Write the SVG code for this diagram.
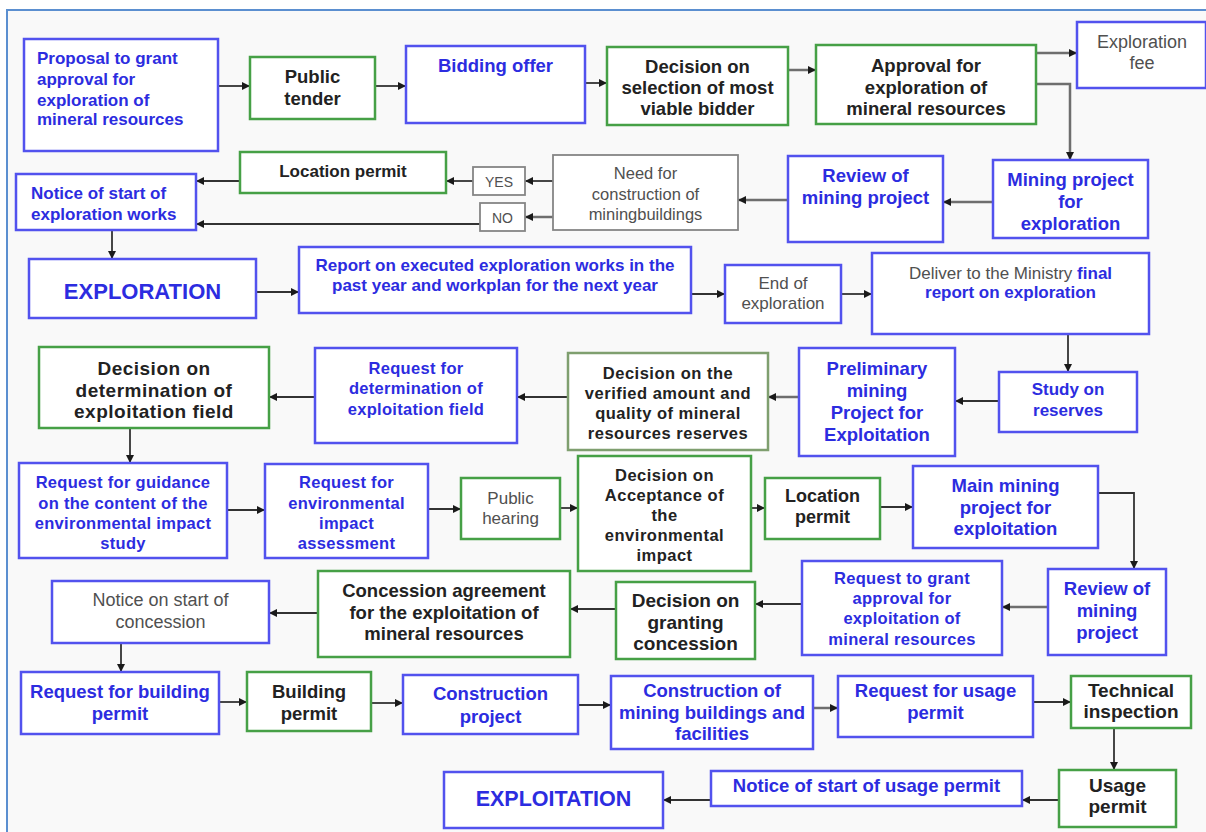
<svg xmlns="http://www.w3.org/2000/svg" width="1206" height="832" viewBox="0 0 1206 832">
  <defs>
    <marker id="ah" viewBox="0 0 10 10" refX="10" refY="5" markerWidth="8" markerHeight="8" markerUnits="userSpaceOnUse" orient="auto">
      <path d="M0,0 L10,5 L0,10 z" fill="#1a1a1a"/>
    </marker>
    <style>
      .b { fill: #ffffff; stroke: #5252ee; stroke-width: 2.5; }
      .g { fill: #ffffff; stroke: #46a046; stroke-width: 2.5; }
      .o { fill: #ffffff; stroke: #7f9f6f; stroke-width: 2.5; }
      .k { fill: #ffffff; stroke: #858585; stroke-width: 1.8; }
      text { font-family: "Liberation Sans", Arial, sans-serif; text-anchor: middle; }
      .tb { font-weight: bold; fill: #2c2ce0; }
      .tk { font-weight: bold; fill: #222222; }
      .tg { font-weight: normal; fill: #505050; }
      .l { text-anchor: start; }
      .f14 { font-size: 14px; }
      .f165 { font-size: 16.5px; letter-spacing: 0.3px; }
      .f17 { font-size: 17px; }
      .f18 { font-size: 18px; }
      .f185 { font-size: 18.5px; }
      .f19 { font-size: 19px; }
      .conn path { fill: none; stroke: #333333; stroke-width: 1.8; marker-end: url(#ah); }
      .conn path.soft { stroke: #6e6e6e; stroke-width: 2.5; }
    </style>
  </defs>

  <!-- page frame -->
  <rect x="0" y="0" width="1206" height="832" fill="#ffffff"/>
  <rect x="7" y="10" width="1215" height="840" fill="#f9f9f9" stroke="#5b8fd0" stroke-width="2"/>

  <!-- connectors -->
  <g id="connectors" class="conn">
    <path d="M218,86 H250"/>
    <path d="M375,86 H406"/>
    <path d="M585,83 H607"/>
    <path class="soft" d="M788,70 H816"/>
    <path class="soft" d="M1036,53 H1077"/>
    <path class="soft" d="M1036,84 H1070 V160"/>
    <path class="soft" d="M993,202 H943"/>
    <path class="soft" d="M788,200 H738"/>
    <path d="M553,181 H525"/>
    <path d="M473,181 H446"/>
    <path class="soft" d="M553,217 H525"/>
    <path d="M480,224 H196"/>
    <path d="M240,181 H196"/>
    <path d="M112,230 V259"/>
    <path d="M256,292 H299"/>
    <path d="M691,294 H725"/>
    <path d="M841,294 H872"/>
    <path d="M1068,334 V372"/>
    <path d="M999,401 H955"/>
    <path class="soft" d="M799,397 H768"/>
    <path d="M568,397 H517"/>
    <path d="M315,397 H269"/>
    <path d="M130,428 V463"/>
    <path d="M227,510 H265"/>
    <path d="M428,509 H461"/>
    <path d="M560,508 H578"/>
    <path d="M734,508 H765"/>
    <path d="M880,507 H913"/>
    <path d="M1098,493 H1134 V569"/>
    <path class="soft" d="M1048,607 H1002"/>
    <path d="M802,604 H755"/>
    <path d="M616,609 H570"/>
    <path d="M318,613 H269"/>
    <path d="M121,643 V672"/>
    <path d="M219,702 H247"/>
    <path d="M371,703 H403"/>
    <path d="M578,705 H611"/>
    <path class="soft" d="M813,708 H838"/>
    <path d="M1033,702 H1071"/>
    <path d="M1114,728 V770"/>
    <path d="M1059,800 H1022"/>
    <path d="M711,800 H663"/>
  </g>

  <!-- exploration approval -->
  <g id="proposal">
    <rect class="b" x="24" y="39" width="194" height="112"/>
    <text class="tb f17 l" x="37" y="64">Proposal to grant</text>
    <text class="tb f17 l" x="37" y="85">approval for</text>
    <text class="tb f17 l" x="37" y="106">exploration of</text>
    <text class="tb f17 l" x="37" y="125">mineral resources</text>
  </g>
  <g id="public-tender">
    <rect class="g" x="250" y="57" width="125" height="62"/>
    <text class="tk f185" x="312.5" y="82.5">Public</text>
    <text class="tk f185" x="312.5" y="104.5">tender</text>
  </g>
  <g id="bidding-offer">
    <rect class="b" x="406" y="46" width="179" height="77"/>
    <text class="tb f185" x="495.5" y="71.5">Bidding offer</text>
  </g>
  <g id="decision-bidder">
    <rect class="g" x="607" y="47" width="181" height="78"/>
    <text class="tk f185" x="697.5" y="73">Decision on</text>
    <text class="tk f185" x="697.5" y="94">selection of most</text>
    <text class="tk f185" x="697.5" y="115">viable bidder</text>
  </g>
  <g id="approval-exploration">
    <rect class="g" x="816" y="45" width="220" height="79"/>
    <text class="tk f185" x="926" y="71.5">Approval for</text>
    <text class="tk f185" x="926" y="93.5">exploration of</text>
    <text class="tk f185" x="926" y="114.5">mineral resources</text>
  </g>
  <g id="exploration-fee">
    <rect class="b" x="1077" y="22" width="129" height="66"/>
    <text class="tg f18" x="1142" y="48">Exploration</text>
    <text class="tg f18" x="1142" y="69">fee</text>
  </g>

  <!-- exploration project -->
  <g id="mining-project-exploration">
    <rect class="b" x="993" y="160" width="155" height="78"/>
    <text class="tb f185" x="1070.5" y="185.5">Mining project</text>
    <text class="tb f185" x="1070.5" y="207.5">for</text>
    <text class="tb f185" x="1070.5" y="229.5">exploration</text>
  </g>
  <g id="review-exploration">
    <rect class="b" x="788" y="156" width="155" height="86"/>
    <text class="tb f185" x="865.5" y="181.5">Review of</text>
    <text class="tb f185" x="865.5" y="203.5">mining project</text>
  </g>
  <g id="need-buildings">
    <rect class="k" x="553" y="155" width="185" height="75"/>
    <text class="tg" font-size="16.5" x="645.5" y="179">Need for</text>
    <text class="tg" font-size="16.5" x="645.5" y="200">construction of</text>
    <text class="tg" font-size="16.5" x="645.5" y="220">miningbuildings</text>
  </g>
  <g id="yes">
    <rect class="k" x="473" y="167" width="52" height="28"/>
    <text class="tg f14" x="499" y="186.5">YES</text>
  </g>
  <g id="no">
    <rect class="k" x="480" y="203" width="45" height="28"/>
    <text class="tg f14" x="502.5" y="222.5">NO</text>
  </g>
  <g id="location-permit-exploration">
    <rect class="g" x="240" y="152" width="206" height="41"/>
    <text class="tk f17" x="343" y="177">Location permit</text>
  </g>
  <g id="notice-exploration">
    <rect class="b" x="16" y="174" width="180" height="56"/>
    <text class="tb f17 l" x="31" y="199">Notice of start of</text>
    <text class="tb f17 l" x="31" y="220">exploration works</text>
  </g>

  <!-- exploration works -->
  <g id="exploration">
    <rect class="b" x="29" y="259" width="227" height="59"/>
    <text class="tb" font-size="22" x="142.5" y="298.5">EXPLORATION</text>
  </g>
  <g id="annual-report">
    <rect class="b" x="299" y="247" width="392" height="66"/>
    <text class="tb f17" x="495" y="271">Report on executed exploration works in the</text>
    <text class="tb f17" x="495" y="291">past year and workplan for the next year</text>
  </g>
  <g id="end-exploration">
    <rect class="b" x="725" y="265" width="116" height="58"/>
    <text class="tg f17" x="783" y="289">End of</text>
    <text class="tg f17" x="783" y="309">exploration</text>
  </g>
  <g id="final-report">
    <rect class="b" x="872" y="253" width="277" height="81"/>
    <text class="f17" x="1010.5" y="279"><tspan class="tg">Deliver to the Ministry </tspan><tspan class="tb">final</tspan></text>
    <text class="tb f17" x="1010.5" y="298">report on exploration</text>
  </g>

  <!-- reserves and exploitation field -->
  <g id="study-reserves">
    <rect class="b" x="999" y="372" width="138" height="60"/>
    <text class="tb f17" x="1068" y="395">Study on</text>
    <text class="tb f17" x="1068" y="416">reserves</text>
  </g>
  <g id="preliminary-project">
    <rect class="b" x="799" y="348" width="156" height="108"/>
    <text class="tb f185" x="877" y="374.5">Preliminary</text>
    <text class="tb f185" x="877" y="396.5">mining</text>
    <text class="tb f185" x="877" y="418.5">Project for</text>
    <text class="tb f185" x="877" y="440.5">Exploitation</text>
  </g>
  <g id="decision-reserves">
    <rect class="o" x="568" y="353" width="200" height="97"/>
    <text class="tk" font-size="16.5" letter-spacing="0.5" x="668" y="379">Decision on the</text>
    <text class="tk" font-size="16.5" letter-spacing="0.5" x="668" y="399">verified amount and</text>
    <text class="tk" font-size="16.5" letter-spacing="0.5" x="668" y="419">quality of mineral</text>
    <text class="tk" font-size="16.5" letter-spacing="0.5" x="668" y="439">resources reserves</text>
  </g>
  <g id="request-field">
    <rect class="b" x="315" y="348" width="202" height="95"/>
    <text class="tb f165" x="416" y="374">Request for</text>
    <text class="tb f165" x="416" y="394">determination of</text>
    <text class="tb f165" x="416" y="415">exploitation field</text>
  </g>
  <g id="decision-field">
    <rect class="g" x="39" y="347" width="230" height="81"/>
    <text class="tk f19" letter-spacing="0.5" x="154" y="374.5">Decision on</text>
    <text class="tk f19" letter-spacing="0.5" x="154" y="396.5">determination of</text>
    <text class="tk f19" letter-spacing="0.5" x="154" y="417.5">exploitation field</text>
  </g>

  <!-- environmental impact -->
  <g id="request-guidance">
    <rect class="b" x="19" y="463" width="208" height="95"/>
    <text class="tb f165" x="123" y="488">Request for guidance</text>
    <text class="tb f165" x="123" y="509">on the content of the</text>
    <text class="tb f165" x="123" y="529">environmental impact</text>
    <text class="tb f165" x="123" y="549">study</text>
  </g>
  <g id="request-eia">
    <rect class="b" x="265" y="464" width="163" height="94"/>
    <text class="tb f165" x="346.5" y="488">Request for</text>
    <text class="tb f165" x="346.5" y="509">environmental</text>
    <text class="tb f165" x="346.5" y="529">impact</text>
    <text class="tb f165" x="346.5" y="549">assessment</text>
  </g>
  <g id="public-hearing">
    <rect class="g" x="461" y="478" width="99" height="61"/>
    <text class="tg f17" x="510.5" y="504">Public</text>
    <text class="tg f17" x="510.5" y="524">hearing</text>
  </g>
  <g id="decision-eia">
    <rect class="g" x="578" y="456" width="173" height="115"/>
    <text class="tk" font-size="16.5" letter-spacing="0.5" x="664.5" y="481">Decision on</text>
    <text class="tk" font-size="16.5" letter-spacing="0.5" x="664.5" y="501">Acceptance of</text>
    <text class="tk" font-size="16.5" letter-spacing="0.5" x="664.5" y="521">the</text>
    <text class="tk" font-size="16.5" letter-spacing="0.5" x="664.5" y="541">environmental</text>
    <text class="tk" font-size="16.5" letter-spacing="0.5" x="664.5" y="561">impact</text>
  </g>
  <g id="location-permit-exploitation">
    <rect class="g" x="765" y="478" width="115" height="61"/>
    <text class="tk f18" x="822.5" y="502">Location</text>
    <text class="tk f18" x="822.5" y="523">permit</text>
  </g>
  <g id="main-project">
    <rect class="b" x="913" y="466" width="185" height="82"/>
    <text class="tb f185" x="1005.5" y="491.5">Main mining</text>
    <text class="tb f185" x="1005.5" y="513.5">project for</text>
    <text class="tb f185" x="1005.5" y="534.5">exploitation</text>
  </g>

  <!-- concession -->
  <g id="review-exploitation">
    <rect class="b" x="1048" y="569" width="118" height="86"/>
    <text class="tb f185" x="1107" y="594.5">Review of</text>
    <text class="tb f185" x="1107" y="616.5">mining</text>
    <text class="tb f185" x="1107" y="638.5">project</text>
  </g>
  <g id="request-exploitation">
    <rect class="b" x="802" y="561" width="200" height="94"/>
    <text class="tb f165" x="902" y="584">Request to grant</text>
    <text class="tb f165" x="902" y="604">approval for</text>
    <text class="tb f165" x="902" y="624">exploitation of</text>
    <text class="tb f165" x="902" y="645">mineral resources</text>
  </g>
  <g id="decision-concession">
    <rect class="g" x="616" y="582" width="139" height="77"/>
    <text class="tk f19" x="685.5" y="606.5">Decision on</text>
    <text class="tk f19" x="685.5" y="628.5">granting</text>
    <text class="tk f19" x="685.5" y="649.5">concession</text>
  </g>
  <g id="concession-agreement">
    <rect class="g" x="318" y="571" width="252" height="86"/>
    <text class="tk f185" x="444" y="596.5">Concession agreement</text>
    <text class="tk f185" x="444" y="618.5">for the exploitation of</text>
    <text class="tk f185" x="444" y="639.5">mineral resources</text>
  </g>
  <g id="notice-concession">
    <rect class="b" x="52" y="581" width="217" height="62"/>
    <text class="tg f18" x="160.5" y="606">Notice on start of</text>
    <text class="tg f18" x="160.5" y="628">concession</text>
  </g>

  <!-- construction and usage -->
  <g id="request-building">
    <rect class="b" x="21" y="672" width="198" height="62"/>
    <text class="tb f185" x="120" y="697.5">Request for building</text>
    <text class="tb f185" x="120" y="719.5">permit</text>
  </g>
  <g id="building-permit">
    <rect class="g" x="247" y="672" width="124" height="59"/>
    <text class="tk f185" x="309" y="697.5">Building</text>
    <text class="tk f185" x="309" y="719.5">permit</text>
  </g>
  <g id="construction-project">
    <rect class="b" x="403" y="675" width="175" height="59"/>
    <text class="tb f185" x="490.5" y="699.5">Construction</text>
    <text class="tb f185" x="490.5" y="722.5">project</text>
  </g>
  <g id="construction-buildings">
    <rect class="b" x="611" y="676" width="202" height="73"/>
    <text class="tb f185" x="712" y="696.5">Construction of</text>
    <text class="tb f185" x="712" y="718.5">mining buildings and</text>
    <text class="tb f185" x="712" y="739.5">facilities</text>
  </g>
  <g id="request-usage">
    <rect class="b" x="838" y="676" width="195" height="61"/>
    <text class="tb f185" x="935.5" y="696.5">Request for usage</text>
    <text class="tb f185" x="935.5" y="718.5">permit</text>
  </g>
  <g id="technical-inspection">
    <rect class="g" x="1071" y="676" width="120" height="52"/>
    <text class="tk f19" x="1131" y="696.5">Technical</text>
    <text class="tk f19" x="1131" y="717.5">inspection</text>
  </g>
  <g id="usage-permit">
    <rect class="g" x="1059" y="770" width="117" height="57"/>
    <text class="tk f19" x="1117.5" y="791.5">Usage</text>
    <text class="tk f19" x="1117.5" y="812.5">permit</text>
  </g>
  <g id="notice-usage">
    <rect class="b" x="711" y="771" width="311" height="35"/>
    <text class="tb f185" x="866.5" y="791.5">Notice of start of usage permit</text>
  </g>
  <g id="exploitation">
    <rect class="b" x="444" y="772" width="219" height="56"/>
    <text class="tb" font-size="21.5" x="553.5" y="805.5">EXPLOITATION</text>
  </g>
</svg>
